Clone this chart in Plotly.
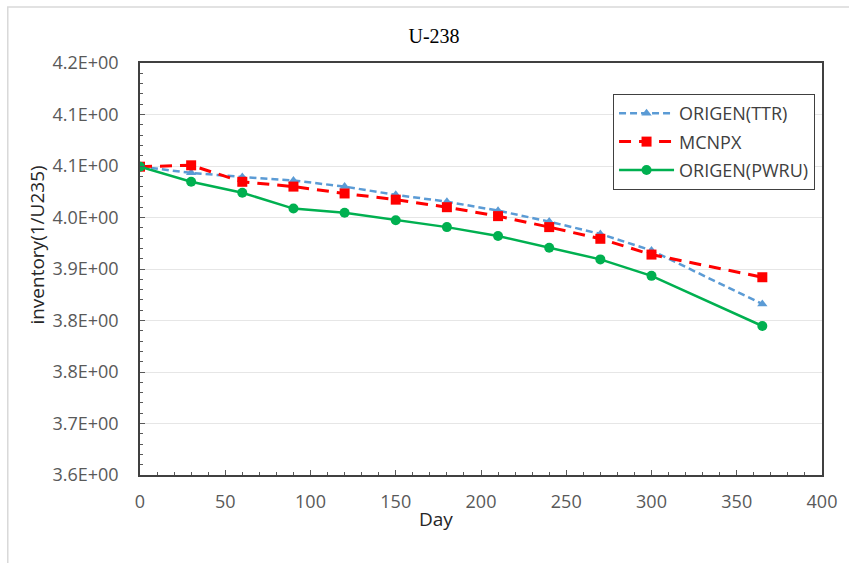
import plotly.graph_objects as go

days = [0, 30, 60, 90, 120, 150, 180, 210, 240, 270, 300, 365]
origen_ttr = [4.049, 4.040, 4.034, 4.029, 4.020, 4.008, 3.998, 3.985, 3.969, 3.951, 3.927, 3.849]
mcnpx = [4.049, 4.051, 4.027, 4.020, 4.010, 4.001, 3.990, 3.977, 3.961, 3.944, 3.921, 3.888]
origen_pwru = [4.049, 4.027, 4.011, 3.988, 3.982, 3.971, 3.961, 3.948, 3.931, 3.914, 3.890, 3.817]

y_tickvals = [3.6, 3.675, 3.75, 3.825, 3.9, 3.975, 4.05, 4.125, 4.2]
y_ticktext = ["3.6E+00", "3.7E+00", "3.8E+00", "3.8E+00", "3.9E+00", "4.0E+00", "4.1E+00", "4.1E+00", "4.2E+00"]
x_tickvals = [0, 50, 100, 150, 200, 250, 300, 350, 400]

W, H = 849, 563
L, R, T, B = 140, 826, 63, 475

fig = go.Figure()
fig.add_trace(go.Scatter(x=days, y=origen_ttr, name="ORIGEN(TTR)", mode="lines+markers", legendgroup="a",
                         line=dict(color="#5B9BD5", width=2.5, dash="7px,4px"),
                         marker=dict(symbol="triangle-up", size=9, color="#5B9BD5")))
fig.add_trace(go.Scatter(x=days, y=mcnpx, name="MCNPX", mode="lines+markers", legendgroup="b",
                         line=dict(color="#FF0000", width=3, dash="12px,8px"),
                         marker=dict(symbol="square", size=10, color="#FF0000")))
fig.add_trace(go.Scatter(x=days, y=origen_pwru, name="ORIGEN(PWRU)", mode="lines+markers", legendgroup="c",
                         line=dict(color="#00B050", width=2.5),
                         marker=dict(symbol="circle", size=10, color="#00B050")))

tickfont = dict(family="Open Sans", size=18, color="#595959")
fig.update_xaxes(range=[0, 400], tickvals=x_tickvals, ticks="inside", ticklen=5, tickcolor="#595959",
                 showline=True, linecolor="#404040", linewidth=1.5, mirror=True, showgrid=False,
                 zeroline=False, tickfont=tickfont, ticklabelstandoff=10,
                 minor=dict(dtick=10, ticks="inside", ticklen=3, tickcolor="#595959", showgrid=False))
fig.update_yaxes(range=[3.6, 4.2], tickvals=y_tickvals, ticktext=y_ticktext, ticks="inside", ticklen=5,
                 tickcolor="#595959", showline=True, linecolor="#404040", linewidth=1.5, mirror=True,
                 showgrid=True, gridcolor="#E6E6E6", gridwidth=1, zeroline=False, tickfont=tickfont,
                 ticklabelstandoff=16,
                 minor=dict(dtick=0.015, tick0=3.6, ticks="inside", ticklen=3, tickcolor="#595959", showgrid=False))

pw, ph = R - L, B - T
def px(x):
    return (x - L) / pw
def py(y):
    return (B - y) / ph

fig.add_annotation(text="Day", x=px(438), y=py(519), xref="paper", yref="paper", showarrow=False,
                   xanchor="center", yanchor="middle",
                   font=dict(family="Open Sans", size=19, color="#262626"))
fig.add_annotation(text="inventory(1/U235)", x=px(36), y=py(245), xref="paper", yref="paper",
                   showarrow=False, textangle=-90, xanchor="center", yanchor="middle",
                   font=dict(family="Open Sans", size=19, color="#262626"))
fig.add_shape(type="rect", xref="paper", yref="paper", x0=px(7), x1=px(870), y0=py(590), y1=py(7),
              line=dict(color="#D9D9D9", width=1.5), layer="below")

fig.update_layout(
    width=W, height=H, margin=dict(l=L, r=W - R, t=T, b=H - B),
    paper_bgcolor="white", plot_bgcolor="white",
    title=dict(text="U-238", x=434 / W, xref="container", xanchor="center", y=1 - 36 / H, yanchor="middle",
               font=dict(family="Liberation Serif", size=20, color="#000000")),
    showlegend=True,
    legend=dict(x=px(819), y=py(94), xanchor="right", yanchor="top", bordercolor="#404040", borderwidth=1,
                bgcolor="white", font=dict(family="Open Sans", size=18, color="#404040"),
                itemwidth=55, tracegroupgap=2),
)

fig.write_html("out.html", config={"displayModeBar": False},
               post_script="document.body.style.margin='0';document.body.style.padding='0';")
